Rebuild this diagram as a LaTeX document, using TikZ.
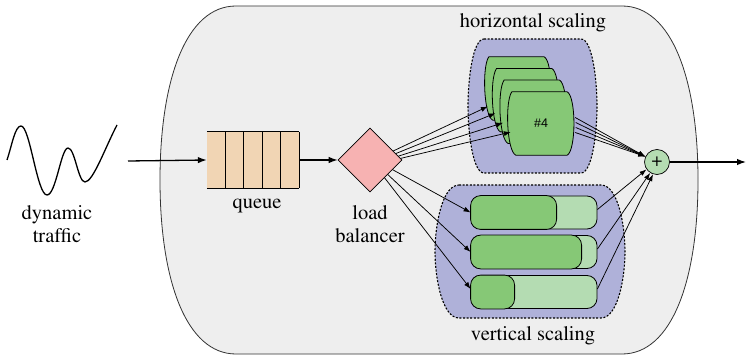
\documentclass[tikz,border=0pt]{standalone}
\usepackage[T1]{fontenc}
\usepackage{fontspec}
\newcommand\serifface{\fontencoding{T1}\fontfamily{ptm}\fontseries{m}\fontshape{n}}
\newfontfamily\labelsans{Liberation Sans}
\usetikzlibrary{shapes.geometric,arrows.meta,calc}

\definecolor{panelgrey}{HTML}{EEEEEE}
\definecolor{panelline}{HTML}{333333}
\definecolor{groupblue}{HTML}{AFB1D9}
\definecolor{srvgreen}{HTML}{86C876}
\definecolor{palegreen}{HTML}{B4DCB2}
\definecolor{queuefill}{HTML}{F1D5B4}
\definecolor{lbpink}{HTML}{F7B2B2}

\newcommand\servershape[1]{%
  \draw[serverbody] (#1.north west) -- ($(#1.north east)+(-3,0)$)
    .. controls ($(#1.north east)+(6,5)$) and ($(#1.south east)+(6,-5)$) .. ($(#1.south east)+(-3,0)$)
    -- ($(#1.south west)+(4,0)$)
    .. controls ($(#1.south west)+(-5,-4)$) and ($(#1.north west)+(-7,10)$) .. (#1.north west) -- cycle;}

\newcommand\groupblob[5]{% x0 y0 x1 y1 corner
  \path[groupbody] ({#1+#5},#2) -- ({#3-#5},#2)
    .. controls ({#3-0.3*#5},#2) and (#3,{#2+0.3*(#4-#2)}) .. (#3,{0.5*(#2+#4)})
    .. controls (#3,{#4-0.3*(#4-#2)}) and ({#3-0.3*#5},#4) .. ({#3-#5},#4)
    -- ({#1+#5},#4)
    .. controls ({#1+0.3*#5},#4) and (#1,{#4-0.3*(#4-#2)}) .. (#1,{0.5*(#2+#4)})
    .. controls (#1,{#2+0.3*(#4-#2)}) and ({#1+0.3*#5},#2) .. ({#1+#5},#2) -- cycle;}

\begin{document}
\begin{tikzpicture}[x=1pt,y=-1pt,
  serverbody/.style={draw=black,line width=0.8pt,fill=srvgreen},
  groupbody/.style={fill=groupblue,draw=black,line width=1.1pt,dash pattern=on 2pt off 1.6pt},
  srvnode/.style={minimum width=58pt,minimum height=63pt,inner sep=0pt},
  barnode/.style={draw=black,line width=0.8pt,fill=palegreen,rounded corners=10pt,
                  minimum width=126pt,minimum height=33pt,inner sep=0pt},
  fillbar/.style={draw=black,line width=0.8pt,fill=srvgreen,rounded corners=10pt},
  textlabel/.style={align=center,inner sep=0pt,font=\serifface\fontsize{20.5}{23}\selectfont},
  conn/.style={line width=1.3pt,-{Latex[length=9pt,width=6.5pt]}},
  fan/.style={line width=0.75pt,-{Latex[length=7pt,width=5pt]}}]

\useasboundingbox (0,0) rectangle (746,355);

% outer service panel
\draw[panelline,line width=0.8pt,fill=panelgrey]
  (236,6) -- (622,6)
  .. controls (672,6) and (698,80) .. (698,180)
  .. controls (698,280) and (672,354) .. (622,354)
  -- (236,354)
  .. controls (186,354) and (160,280) .. (160,180)
  .. controls (160,80) and (186,6) .. (236,6) -- cycle;

% incoming traffic wave
\draw[line width=1.3pt]
  (7,160) .. controls (12,145) and (15,126) .. (21,126)
  .. controls (30,126) and (37,195) .. (47,195)
  .. controls (56,195) and (61,148) .. (68,148)
  .. controls (75,148) and (78,182) .. (85,182)
  .. controls (93,182) and (105,148) .. (117,125);
\node[textlabel] (traffic) at (57,224) {dynamic\\traffic};

% scaling groups
\groupblob{468}{39}{597}{173}{16}
\groupblob{435}{185}{625}{318}{24}
\node[textlabel] (hlabel) at (533,23) {horizontal scaling};
\node[textlabel] (vlabel) at (533,336) {vertical scaling};

% horizontally scaled instances
\node[srvnode] (h1) at (518,88.5) {};
\node[srvnode] (h2) at (525.7,100.2) {};
\node[srvnode] (h3) at (533.3,111.8) {};
\node[srvnode] (h4) at (541,123.5) {};
\servershape{h1}
\servershape{h2}
\servershape{h3}
\servershape{h4}

% vertically scaled instances
\node[barnode] (v1) at (534,212.5) {};
\node[barnode] (v2) at (534,252) {};
\node[barnode] (v3) at (534,292) {};
\draw[fillbar] (v1.north west) rectangle ($(v1.south west)+(86,0)$);
\draw[fillbar] (v2.north west) rectangle ($(v2.south west)+(111,0)$);
\draw[fillbar] (v3.north west) rectangle ($(v3.south west)+(44,0)$);

% queue
\node[minimum width=92pt,minimum height=56pt,inner sep=0pt,fill=queuefill] (queue) at (253,160) {};
\draw[line width=0.8pt] (queue.north west) -- (queue.north east)
  (queue.south west) -- (queue.south east);
\foreach \f in {0.2,0.4,0.6,0.8,1.0}
  \draw[line width=0.8pt] ($(queue.north west)!\f!(queue.north east)$) -- ($(queue.south west)!\f!(queue.south east)$);
\node[textlabel] (qlabel) at (257,206) {queue};

% load balancer
\node[diamond,draw=black,line width=0.6pt,fill=lbpink,minimum width=64pt,minimum height=64pt,inner sep=0pt] (lb) at (370,160) {};
\node[textlabel] (lblabel) at (370,224) {load\\balancer};

% aggregation
\node[circle,draw=black,line width=0.7pt,fill=palegreen,minimum size=25pt,inner sep=0pt] (sum) at (657,162) {};
\node[inner sep=0pt] (plus) at ($(sum.center)+(0,-0.5)$) {{\serifface\fontsize{19}{20}\selectfont +}};

% main flow
\coordinate (src) at (128,161);
\coordinate (out) at (746,162);
\draw[conn] (src) -- (queue.west);
\draw[conn] (queue.east) -- (lb.west);
\draw[conn] (sum.east) -- (out);

% load balancer fan-out
\draw[fan] ($(lb.east)!0.28!(lb.north)$) -- ($(h1.west)+(-1,18)$);
\draw[fan] ($(lb.east)!0.20!(lb.north)$) -- ($(h2.west)+(-1,13)$);
\draw[fan] ($(lb.east)!0.12!(lb.north)$) -- ($(h3.west)+(-1,11)$);
\draw[fan] ($(lb.east)!0.05!(lb.north)$) -- ($(h4.west)+(-1,8.5)$);
\draw[fan] ($(lb.east)!0.30!(lb.south)$) -- (v1.west);
\draw[fan] ($(lb.east)!0.45!(lb.south)$) -- (v2.west);
\draw[fan] ($(lb.east)!0.55!(lb.south)$) -- ($(v3.west)+(0,-3)$);

% fan-in to the aggregator
\draw[fan] ($(h4.east)+(5,-6)$) -- (sum.155);
\draw[fan] ($(h4.east)+(5.5,-1)$) -- (sum.155);
\draw[fan] ($(h4.east)+(5.5,4)$) -- (sum.155);
\draw[fan] ($(h4.east)+(5,9)$) -- (sum.155);
\draw[fan] ($(v1.east)+(0,-3)$) -- (sum.215);
\draw[fan] ($(v2.east)+(0,-3)$) -- (sum.238);
\draw[fan] ($(v3.east)+(0,-3)$) -- (sum.252);

% instance number, set in the sans face last
\node[inner sep=0pt] (h4label) at (h4.center) {{\labelsans\fontsize{12.5}{14}\selectfont\#4}};
\end{tikzpicture}
\end{document}
